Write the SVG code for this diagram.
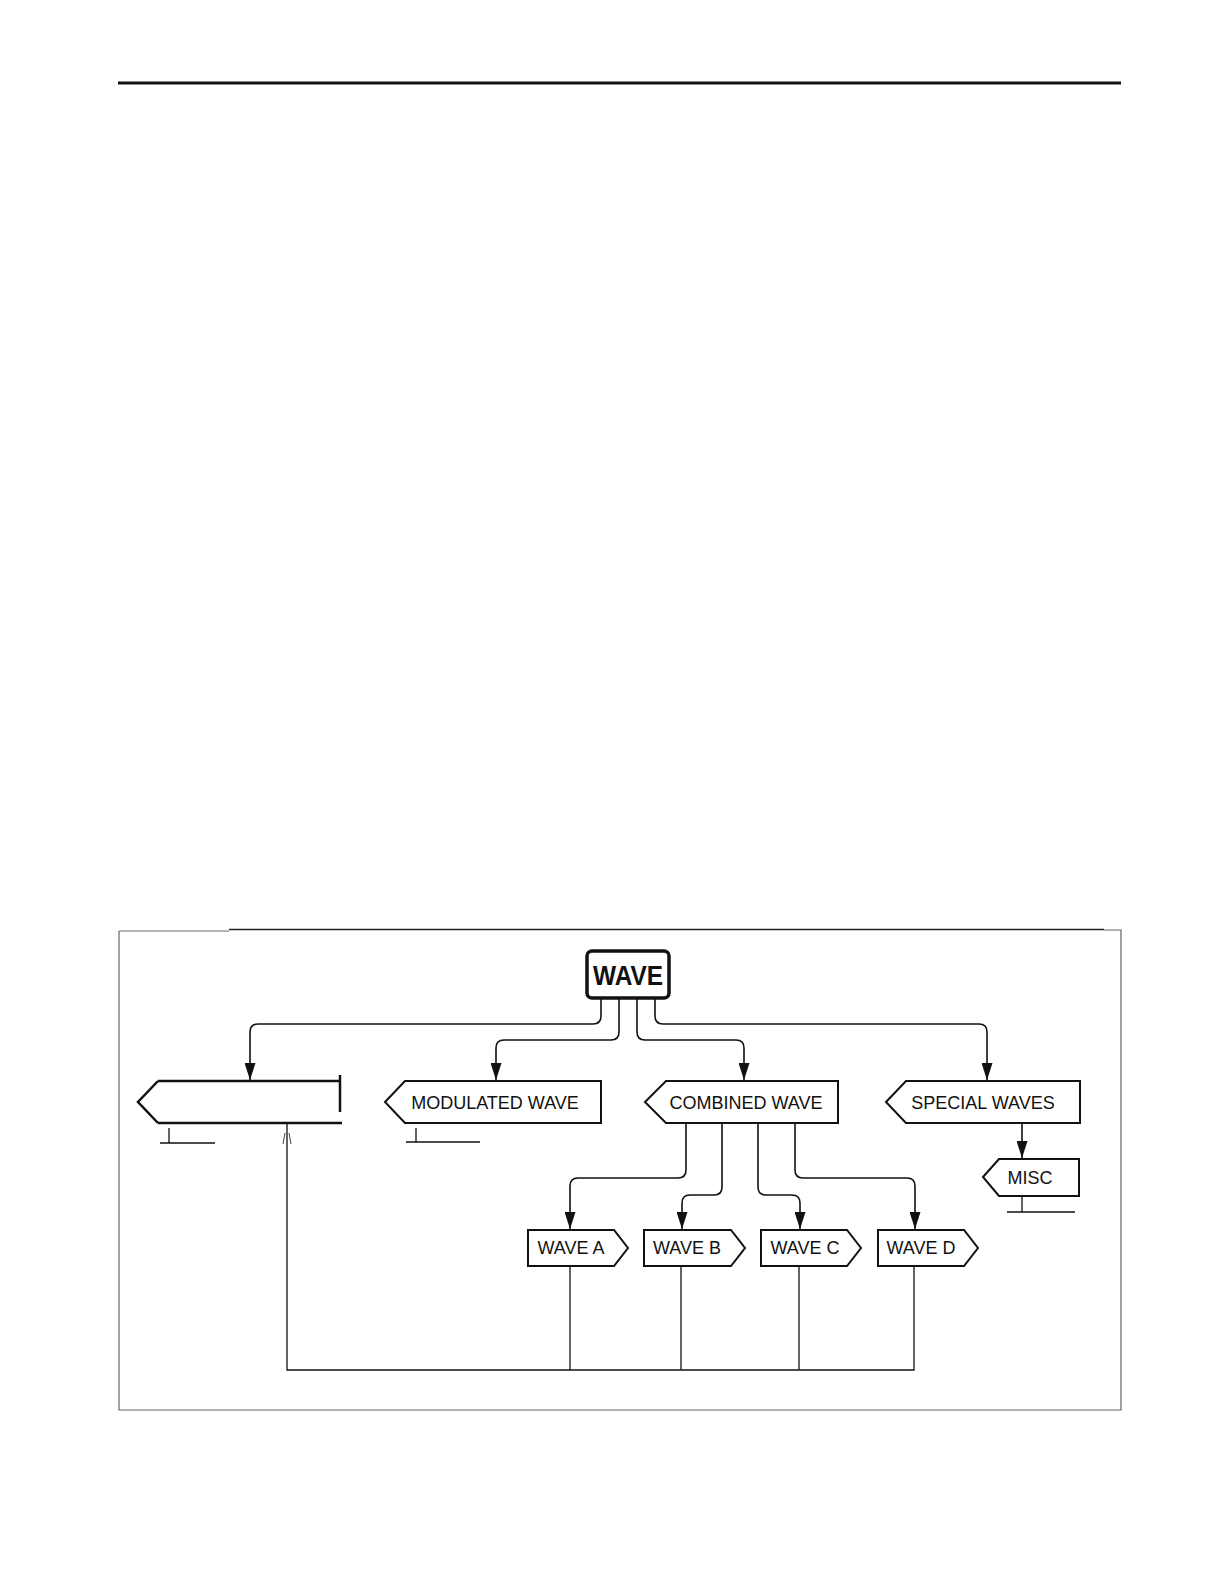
<svg xmlns="http://www.w3.org/2000/svg" width="1224" height="1584" viewBox="0 0 1224 1584">
<style>
.node{fill:#fff;stroke:#111;stroke-width:2}
.lbl{font-family:"Liberation Sans",Arial,sans-serif;font-size:18px;fill:#111;text-anchor:middle}
.con{fill:none;stroke:#111;stroke-width:1.6}
.thin{fill:none;stroke:#111;stroke-width:1.3}
.frame{fill:none;stroke:#666;stroke-width:1.2}
</style>
<defs>
<marker id="arr" viewBox="0 0 17 11" refX="17" refY="5.5" markerWidth="17" markerHeight="11" markerUnits="userSpaceOnUse" orient="auto">
<path d="M0,0 L17,5.5 L0,11 Z" fill="#111"/>
</marker>
</defs>
<rect width="1224" height="1584" fill="#fff"/>
<line x1="118" y1="83" x2="1121" y2="83" stroke="#111" stroke-width="3"/>
<g id="frame">
<line class="frame" x1="119" y1="931" x2="229" y2="931" stroke="#888"/>
<line x1="229" y1="929.5" x2="1104" y2="929.5" stroke="#222" stroke-width="1.4"/>
<polyline class="frame" points="1104,930 1121,930 1121,1410 119,1410 119,931"/>
</g>
<g id="connectors">
<path class="con" d="M601,998 V1016 Q601,1024 593,1024 H258 Q250,1024 250,1032 V1080" marker-end="url(#arr)"/>
<path class="con" d="M619,998 V1032 Q619,1040 611,1040 H504 Q496,1040 496,1048 V1080" marker-end="url(#arr)"/>
<path class="con" d="M637,998 V1032 Q637,1040 645,1040 H736 Q744,1040 744,1048 V1080" marker-end="url(#arr)"/>
<path class="con" d="M655,998 V1016 Q655,1024 663,1024 H979 Q987,1024 987,1032 V1080" marker-end="url(#arr)"/>
<path class="con" d="M1022,1123 V1158" marker-end="url(#arr)"/>
<path class="con" d="M686,1123 V1170 Q686,1178 678,1178 H578 Q570,1178 570,1186 V1229" marker-end="url(#arr)"/>
<path class="con" d="M722,1123 V1187 Q722,1195 714,1195 H690 Q682,1195 682,1203 V1229" marker-end="url(#arr)"/>
<path class="con" d="M758,1123 V1187 Q758,1195 766,1195 H792 Q800,1195 800,1203 V1229" marker-end="url(#arr)"/>
<path class="con" d="M795,1123 V1170 Q795,1178 803,1178 H907 Q915,1178 915,1186 V1229" marker-end="url(#arr)"/>
<path class="thin" d="M570,1266 V1370"/>
<path class="thin" d="M681,1266 V1370"/>
<path class="thin" d="M799,1266 V1370"/>
<path class="thin" d="M914,1266 V1370 H287 V1124"/>
<path fill="none" stroke="#111" stroke-width="0.8" d="M283,1144 L285,1133 M291,1144 L289,1133"/>
</g>
<g id="wave">
<rect x="587" y="951" width="82" height="47" rx="5" fill="#fff" stroke="#111" stroke-width="3.5"/>
<text x="628" y="985" font-family="Liberation Sans,Arial,sans-serif" font-size="27" font-weight="bold" text-anchor="middle" textLength="70" lengthAdjust="spacingAndGlyphs" fill="#111">WAVE</text>
</g>
<g id="blank-node">
<path d="M158,1081 L138,1102 L158,1123" fill="none" stroke="#111" stroke-width="2.5"/>
<line x1="158" y1="1081" x2="341" y2="1081" stroke="#111" stroke-width="2.5"/>
<line x1="158" y1="1123" x2="342" y2="1123" stroke="#111" stroke-width="2.5"/>
<line x1="340" y1="1075" x2="340" y2="1112" stroke="#111" stroke-width="2.5"/>
<path class="thin" d="M169,1128 V1143 M160,1143 H215"/>
</g>
<g id="modulated-wave">
<path class="node" d="M385,1102 L405,1081 H601 V1123 H405 Z"/>
<text class="lbl" x="495" y="1109">MODULATED WAVE</text>
<path class="thin" d="M416,1128 V1142 M406,1142 H480"/>
</g>
<g id="combined-wave">
<path class="node" d="M645,1102 L666,1081 H838 V1123 H666 Z"/>
<text class="lbl" x="746" y="1109">COMBINED WAVE</text>
</g>
<g id="special-waves">
<path class="node" d="M886,1102 L906,1081 H1080 V1123 H906 Z"/>
<text class="lbl" x="983" y="1109">SPECIAL WAVES</text>
</g>
<g id="misc">
<path class="node" d="M983,1177 L999,1159 H1079 V1196 H999 Z"/>
<text class="lbl" x="1030" y="1184">MISC</text>
<path class="thin" d="M1022,1196 V1212 M1007,1212 H1075"/>
</g>
<g id="wave-a">
<path class="node" d="M528,1230 H614 L628,1248 L614,1266 H528 Z"/>
<text class="lbl" x="571" y="1254">WAVE A</text>
</g>
<g id="wave-b">
<path class="node" d="M644,1230 H731 L745,1248 L731,1266 H644 Z"/>
<text class="lbl" x="687" y="1254">WAVE B</text>
</g>
<g id="wave-c">
<path class="node" d="M761,1230 H847 L861,1248 L847,1266 H761 Z"/>
<text class="lbl" x="805" y="1254">WAVE C</text>
</g>
<g id="wave-d">
<path class="node" d="M878,1230 H964 L978,1248 L964,1266 H878 Z"/>
<text class="lbl" x="921" y="1254">WAVE D</text>
</g>
</svg>
